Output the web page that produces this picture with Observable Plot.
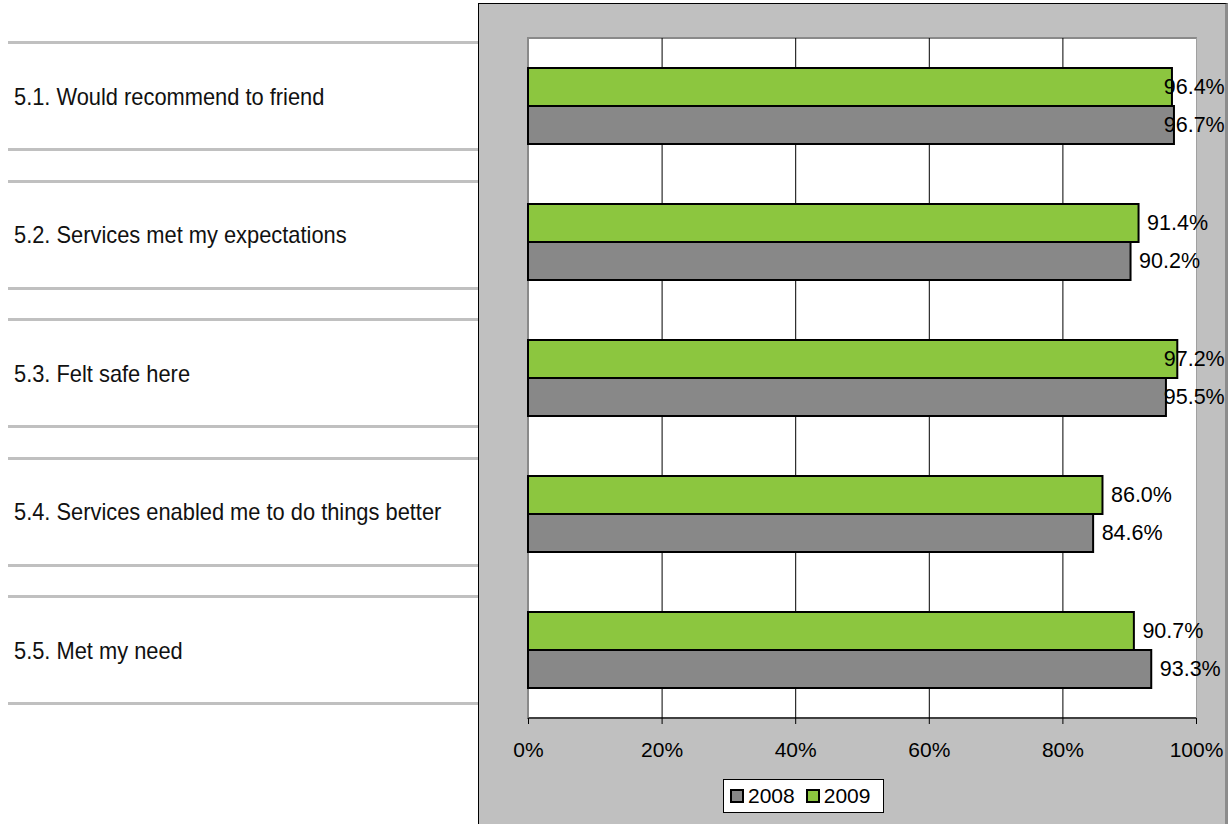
<!DOCTYPE html>
<html>
<head>
<meta charset="utf-8">
<script src="https://cdn.jsdelivr.net/npm/d3@7"></script>
<script src="https://cdn.jsdelivr.net/npm/@observablehq/plot@0.6"></script>
<style>
  html, body { margin: 0; padding: 0; background: #fff; }
  #wrap { position: relative; width: 1230px; height: 824px; overflow: hidden; font-family: "Liberation Sans", Arial, sans-serif; }
  .abs { position: absolute; box-sizing: border-box; }
  .sep { position: absolute; left: 8px; width: 470px; height: 3px; background: #c0c0c0; }
  .lab { position: absolute; left: 14px; font-family: "Liberation Sans", Arial, sans-serif; font-size: 24px; color: #111; white-space: nowrap; line-height: 1; transform: scaleX(0.91); transform-origin: 0 50%; }
  #legend { position: absolute; left: 723px; top: 779px; width: 161px; height: 34px; box-sizing: border-box; background: #fff; border: 1px solid #000; display: flex; align-items: center; padding-left: 6px; font-size: 21px; }
  #legend .item { display: flex; align-items: center; margin-right: 11px; }
  #legend .sw { width: 14px; height: 14px; box-sizing: border-box; border: 2px solid #000; margin-right: 4px; }
  #chart { position: absolute; left: 0; top: 0; }
</style>
</head>
<body>
<div id="wrap">
  <div class="abs" style="left:478px; top:3px; width:750px; height:830px; background:#c0c0c0; border-left:1px solid #000; border-top:1px solid #000; border-right:3px solid #8c8c8c;"></div>
  <div class="abs" style="left:527px; top:37px; width:670px; height:682px; background:#fff; border-left:2px solid #8a8a8a; border-top:2px solid #8a8a8a; border-right:1px solid #a0a0a0; border-bottom:2px solid #404040;"></div>
  <div id="left"></div>
  <div id="chart"></div>
  <div id="legend"></div>
</div>
<script>
const categories = [
  "5.1. Would recommend to friend",
  "5.2. Services met my expectations",
  "5.3. Felt safe here",
  "5.4. Services enabled me to do things better",
  "5.5. Met my need"
];
const series = ["2008", "2009"];
const seriesColors = ["#888888", "#8cc63f"];
const values2008 = [96.7, 90.2, 95.5, 84.6, 93.3];
const values2009 = [96.4, 91.4, 97.2, 86.0, 90.7];
const xTicks = [0, 20, 40, 60, 80, 100];
const gridTicks = [20, 40, 60, 80];

const data = [];
categories.forEach((c, i) => {
  data.push({category: c, series: "2009", value: values2009[i]});
  data.push({category: c, series: "2008", value: values2008[i]});
});

// Left table of labels
const left = document.getElementById("left");
categories.forEach((c, i) => {
  const top = 42 + i * 138.5;
  const bottom = top + 107;
  const s1 = document.createElement("div"); s1.className = "sep"; s1.style.top = (top - 1) + "px"; left.appendChild(s1);
  const s2 = document.createElement("div"); s2.className = "sep"; s2.style.top = (bottom - 1) + "px"; left.appendChild(s2);
  const l = document.createElement("div"); l.className = "lab"; l.textContent = c;
  l.style.top = ((top + bottom) / 2 - 11) + "px";
  left.appendChild(l);
});

const chart = Plot.plot({
  width: 1230,
  height: 824,
  marginLeft: 528,
  marginRight: 34,
  marginTop: 38,
  marginBottom: 106,
  style: {background: "transparent", fontFamily: "'Liberation Sans', Arial, sans-serif", fontSize: "21px", color: "#000", overflow: "visible"},
  facet: {data: data, y: "category"},
  fy: {domain: categories, padding: 0, axis: null, label: null},
  y: {domain: ["2009", "2008"], paddingInner: 0, paddingOuter: 0.766, axis: null, label: null},
  x: {domain: [0, 100], ticks: xTicks, tickFormat: d => d + "%", tickSize: 6, tickPadding: 18, label: null},
  color: {domain: series, range: seriesColors},
  marks: [
    Plot.ruleX(gridTicks, {stroke: "#000", strokeWidth: 1}),
    Plot.barX(data, {y: "series", x: "value", fill: "series", stroke: "#000", strokeWidth: 2}),
    Plot.text(data, {y: "series", x: d => Math.min(d.value, 93.9), text: d => d.value.toFixed(1) + "%", textAnchor: "start", dx: 8, fill: "#000", fontSize: 21.5})
  ]
});
document.getElementById("chart").appendChild(chart);

// Legend
const legend = document.getElementById("legend");
series.forEach((s, i) => {
  const it = document.createElement("div"); it.className = "item";
  const sw = document.createElement("div"); sw.className = "sw"; sw.style.background = seriesColors[i];
  const t = document.createElement("span"); t.textContent = s;
  it.appendChild(sw); it.appendChild(t); legend.appendChild(it);
});
</script>
</body>
</html>
